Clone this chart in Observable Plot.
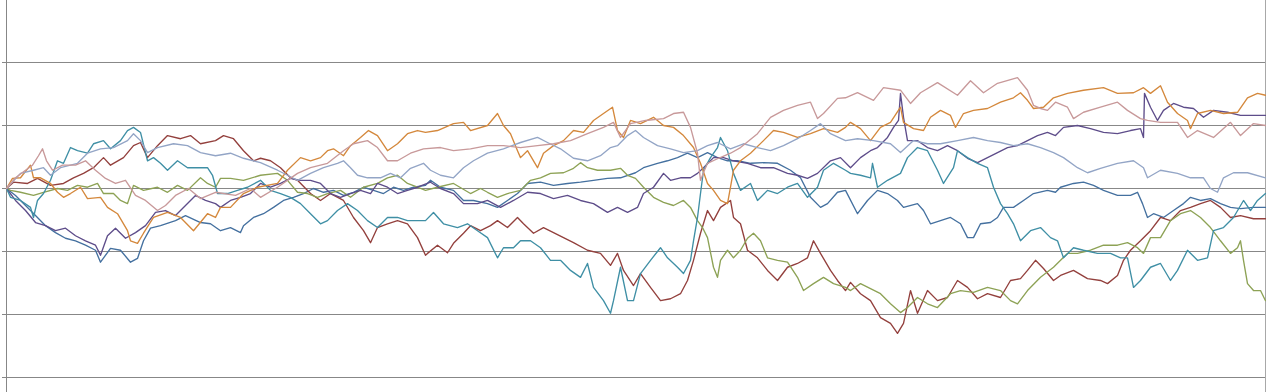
<!DOCTYPE html>
<html>
<head>
<meta charset="utf-8">
<script src="https://cdn.jsdelivr.net/npm/d3@7"></script>
<script src="https://cdn.jsdelivr.net/npm/@observablehq/plot@0.6"></script>
<style>
  html, body { margin: 0; padding: 0; background: #ffffff; }
  #chart svg { display: block; }
</style>
</head>
<body>
<div id="chart"></div>
<script>
// Series names and colours (Excel 2010 default order)
const seriesNames = ["Series 1", "Series 2", "Series 3", "Series 4", "Series 5", "Series 6", "Series 7", "Series 8"];
const seriesColors = ["#44709f", "#93403d", "#8da255", "#5e4d8a", "#3f8fa5", "#d4883c", "#93a5c6", "#c8999a"];
const gridTicks = [-3, -2, -1, 0, 1, 2];

// [day, value] readings for each series
const s1 = [[0,0],[9,-.11],[19,-.27],[29,-.43],[39,-.59],[49,-.70],[59,-.79],[69,-.83],[79,-.90],[89,-.98],[94,-1.17],[104,-.95],[114,-.98],[124,-1.17],[131,-1.11],[137,-.83],[144,-.63],[154,-.59],[169,-.51],[179,-.43],[194,-.54],[204,-.56],[214,-.67],[224,-.62],[234,-.70],[237,-.59],[247,-.46],[257,-.40],[267,-.30],[277,-.19],[287,-.14],[297,-.08],[307,0],[317,-.06],[327,-.03],[337,-.11],[347,-.06],[357,.02],[367,-.03],[377,-.08],[387,.02],[397,-.03],[407,.02],[419,.05],[424,.13],[434,.02],[447,-.03],[457,-.19],[467,-.19],[481,-.24],[491,-.30],[501,-.19],[511,-.08],[521,.08],[534,.10],[547,.05],[561,.08],[574,.10],[587,.13],[601,.16],[614,.17],[629,.25],[637,.33],[651,.40],[661,.44],[671,.49],[681,.56],[691,.49],[701,.57],[711,.49],[721,.44],[731,.44],[744,.40],[757,.41],[771,.40],[784,.29],[794,.17],[804,-.14],[814,-.30],[821,-.24],[831,-.06],[839,-.03],[851,-.40],[861,-.19],[871,-.03],[881,-.08],[891,-.19],[897,-.30],[911,-.24],[917,-.35],[924,-.56],[934,-.51],[944,-.46],[954,-.56],[961,-.78],[967,-.78],[974,-.56],[984,-.54],[991,-.46],[997,-.30],[1007,-.30],[1017,-.19],[1027,-.08],[1041,-.03],[1049,-.06],[1054,.02],[1067,.08],[1077,.10],[1087,.05],[1097,-.03],[1111,-.11],[1124,-.11],[1131,-.06],[1136,-.24],[1141,-.46],[1147,-.40],[1157,-.46],[1167,-.35],[1177,-.24],[1184,-.14],[1194,-.19],[1204,-.16],[1214,-.24],[1224,-.30],[1234,-.32],[1247,-.30],[1259,-.30]];
const s2 = [[0,0],[7,.10],[21,.08],[31,.16],[44,.05],[57,.08],[67,.17],[77,.24],[87,.33],[97,.49],[104,.37],[117,.49],[127,.68],[134,.73],[141,.49],[151,.68],[161,.84],[174,.79],[184,.84],[194,.71],[209,.76],[217,.84],[227,.79],[237,.60],[247,.44],[254,.48],[264,.44],[274,.33],[284,.17],[291,.13],[304,-.08],[314,-.19],[324,-.08],[337,-.19],[347,-.46],[357,-.67],[364,-.86],[371,-.62],[381,-.56],[391,-.51],[401,-.56],[411,-.78],[419,-1.06],[421,-1.03],[431,-.90],[441,-1.02],[447,-.87],[457,-.71],[464,-.59],[474,-.67],[484,-.59],[491,-.51],[501,-.62],[511,-.46],[517,-.56],[527,-.71],[537,-.62],[547,-.70],[557,-.78],[567,-.86],[581,-.98],[594,-1.03],[604,-1.22],[611,-1.03],[617,-1.30],[627,-1.54],[634,-1.35],[644,-1.57],[654,-1.78],[664,-1.75],[674,-1.67],[681,-1.46],[687,-1.14],[694,-.71],[701,-.35],[707,-.51],[714,-.30],[724,-.19],[727,-.46],[734,-.56],[741,-.98],[751,-1.10],[761,-1.30],[771,-1.46],[781,-1.25],[791,-1.19],[801,-1.10],[807,-.83],[814,-1.03],[824,-1.30],[831,-1.46],[839,-1.62],[844,-1.49],[854,-1.67],[864,-1.78],[874,-2.05],[884,-2.14],[891,-2.30],[897,-2.14],[904,-1.62],[911,-1.98],[921,-1.62],[931,-1.78],[941,-1.73],[951,-1.46],[961,-1.57],[971,-1.75],[981,-1.67],[994,-1.73],[1004,-1.46],[1014,-1.43],[1021,-1.30],[1029,-1.14],[1037,-1.27],[1047,-1.46],[1054,-1.38],[1067,-1.30],[1081,-1.43],[1094,-1.46],[1101,-1.51],[1111,-1.38],[1117,-1.14],[1124,-.98],[1134,-.83],[1144,-.67],[1154,-.46],[1164,-.51],[1174,-.35],[1184,-.30],[1194,-.24],[1204,-.19],[1214,-.30],[1224,-.46],[1234,-.43],[1247,-.48],[1259,-.48]];
const s3 = [[0,0],[4,-.03],[14,-.06],[27,-.11],[37,-.06],[51,0],[61,-.03],[71,.05],[81,.02],[91,.08],[97,-.08],[107,-.08],[114,-.19],[121,-.24],[127,.05],[137,-.03],[151,.02],[161,-.06],[171,.05],[181,-.03],[194,.17],[201,.08],[209,.02],[214,.16],[224,.16],[237,.13],[254,.21],[271,.24],[281,.13],[291,-.06],[301,-.08],[311,-.14],[321,-.08],[334,-.03],[344,-.14],[357,.02],[371,.08],[381,.17],[391,.21],[401,.08],[411,.02],[419,-.03],[431,.02],[447,.08],[464,-.08],[474,0],[481,-.06],[491,-.14],[501,-.08],[514,-.03],[524,.13],[534,.17],[544,.24],[557,.25],[567,.32],[574,.41],[581,.33],[591,.29],[604,.29],[614,.32],[621,.21],[629,.16],[637,.02],[647,-.14],[657,-.22],[667,-.27],[677,-.19],[684,-.30],[691,-.51],[696,-.62],[701,-.78],[707,-1.25],[711,-1.41],[714,-1.14],[721,-.98],[727,-1.10],[734,-.98],[741,-.79],[747,-.71],[754,-.83],[761,-1.10],[771,-1.14],[781,-1.17],[791,-1.41],[797,-1.62],[807,-1.51],[817,-1.41],[827,-1.51],[839,-1.57],[844,-1.62],[854,-1.51],[864,-1.59],[874,-1.67],[884,-1.83],[894,-1.97],[901,-1.89],[911,-1.73],[921,-1.83],[931,-1.89],[944,-1.67],[954,-1.62],[967,-1.65],[981,-1.57],[994,-1.62],[1004,-1.78],[1011,-1.83],[1021,-1.62],[1034,-1.41],[1047,-1.25],[1061,-1.03],[1071,-1.03],[1084,-.98],[1097,-.90],[1111,-.90],[1121,-.86],[1131,-.94],[1137,-1.03],[1144,-.78],[1154,-.78],[1164,-.51],[1174,-.40],[1184,-.35],[1194,-.46],[1204,-.62],[1214,-.83],[1224,-1.03],[1231,-.94],[1234,-.83],[1237,-1.14],[1241,-1.51],[1247,-1.62],[1254,-1.62],[1259,-1.78]];
const s4 = [[0,0],[9,-.19],[19,-.35],[29,-.54],[39,-.59],[49,-.67],[59,-.63],[69,-.75],[79,-.83],[89,-.90],[94,-1.06],[101,-.75],[109,-.63],[119,-.79],[129,-.70],[139,-.59],[149,-.38],[159,-.35],[169,-.43],[179,-.27],[189,-.11],[199,-.19],[209,-.24],[214,-.30],[224,-.19],[234,-.14],[244,-.08],[254,.08],[264,.02],[274,.08],[284,.16],[294,.13],[304,.13],[314,.08],[324,-.08],[334,-.14],[344,-.08],[354,-.03],[364,-.08],[371,.08],[381,.02],[391,-.08],[401,-.03],[411,.02],[424,.10],[434,0],[447,-.08],[457,-.24],[471,-.24],[481,-.19],[494,-.30],[507,-.19],[521,-.06],[534,-.08],[547,-.16],[561,-.11],[574,-.19],[587,-.24],[601,-.38],[611,-.30],[621,-.38],[631,-.30],[637,-.08],[647,.02],[657,.24],[664,.13],[674,.17],[684,.17],[691,.24],[697,.33],[707,.49],[717,.49],[727,.44],[741,.40],[754,.33],[767,.33],[781,.24],[791,.21],[801,.16],[811,.24],[824,.44],[834,.49],[844,.33],[854,.49],[864,.60],[871,.65],[881,.81],[887,.97],[892,1.08],[894,1.51],[897,1.13],[901,.76],[911,.76],[921,.65],[931,.60],[941,.68],[951,.60],[961,.48],[971,.41],[981,.49],[991,.57],[1001,.65],[1011,.68],[1021,.76],[1031,.84],[1041,.89],[1049,.84],[1057,.97],[1071,1.00],[1084,.95],[1097,.89],[1111,.87],[1124,.92],[1134,.95],[1137,.81],[1138,1.51],[1144,1.29],[1151,1.08],[1157,1.24],[1167,1.35],[1177,1.29],[1187,1.27],[1197,1.13],[1207,1.24],[1221,1.21],[1234,1.16],[1247,1.16],[1259,1.16]];
const s5 = [[0,0],[4,-.14],[14,-.19],[24,-.30],[27,-.46],[31,-.19],[37,-.08],[44,.13],[51,.44],[57,.40],[64,.65],[71,.60],[81,.56],[87,.71],[97,.76],[104,.63],[114,.76],[121,.92],[127,.97],[134,.89],[141,.44],[147,.49],[154,.40],[161,.29],[171,.44],[181,.33],[191,.33],[201,.33],[206,.21],[211,-.08],[221,-.08],[231,-.03],[241,.02],[254,.13],[264,-.03],[274,-.08],[284,-.14],[294,-.24],[304,-.40],[314,-.56],[321,-.51],[331,-.35],[341,-.24],[351,-.35],[361,-.51],[371,-.62],[381,-.46],[391,-.46],[401,-.51],[411,-.51],[419,-.51],[427,-.38],[437,-.56],[451,-.62],[461,-.56],[471,-.67],[481,-.78],[491,-1.10],[497,-.94],[507,-.94],[514,-.83],[524,-.83],[534,-.94],[544,-1.14],[554,-1.14],[564,-1.30],[574,-1.41],[581,-1.19],[587,-1.57],[597,-1.78],[604,-1.98],[607,-1.78],[614,-1.25],[621,-1.78],[627,-1.78],[634,-1.35],[644,-1.14],[654,-.94],[661,-1.10],[671,-1.25],[677,-1.35],[684,-1.14],[687,-.83],[691,-.46],[694,-.08],[697,.29],[704,.49],[711,.65],[714,.81],[721,.60],[727,.24],[734,-.03],[744,.08],[751,-.19],[761,-.03],[771,-.08],[781,.02],[791,.08],[801,-.14],[811,.02],[817,.29],[827,.40],[839,.29],[844,.24],[854,.21],[864,.17],[866,.40],[871,.02],[881,.13],[894,.24],[901,.49],[911,.65],[921,.60],[931,.29],[937,.08],[947,.33],[951,.60],[961,.49],[971,.40],[981,.33],[987,.02],[994,-.24],[1001,-.40],[1007,-.56],[1014,-.83],[1024,-.67],[1034,-.62],[1044,-.78],[1051,-.83],[1057,-1.10],[1067,-.94],[1077,-.98],[1091,-1.03],[1104,-1.03],[1114,-1.10],[1121,-1.10],[1127,-1.57],[1134,-1.46],[1144,-1.25],[1154,-1.19],[1164,-1.46],[1171,-1.30],[1181,-.98],[1191,-1.14],[1201,-1.10],[1207,-.67],[1217,-.62],[1227,-.46],[1237,-.19],[1244,-.35],[1251,-.19],[1259,-.08]];
const s6 = [[0,0],[6,.16],[14,.17],[24,.37],[27,.17],[34,.17],[44,.08],[51,-.06],[57,-.14],[64,-.08],[74,.02],[81,-.16],[94,-.14],[101,-.30],[111,-.40],[121,-.67],[124,-.83],[131,-.87],[137,-.71],[147,-.46],[161,-.38],[174,-.46],[187,-.67],[201,-.40],[209,-.46],[214,-.30],[224,-.30],[237,-.08],[251,.02],[271,.08],[281,.29],[294,.49],[304,.44],[314,.49],[321,.60],[327,.63],[337,.52],[344,.68],[354,.81],[362,.92],[371,.84],[381,.60],[391,.71],[401,.87],[411,.92],[419,.89],[431,.92],[447,1.03],[457,1.05],[464,.92],[481,1.00],[491,1.19],[497,1.00],[504,.87],[511,.60],[514,.49],[521,.60],[531,.33],[537,.56],[547,.68],[557,.76],[567,.92],[577,.89],[587,1.08],[597,1.19],[606,1.29],[611,.92],[617,.81],[624,1.08],[634,1.03],[647,1.13],[657,1.00],[667,.97],[677,.84],[687,.65],[694,.40],[701,.08],[707,-.03],[714,-.19],[721,-.24],[724,.02],[727,.29],[734,.44],[744,.56],[757,.76],[767,.92],[777,.89],[791,.81],[804,.87],[817,.95],[831,.89],[839,.97],[844,1.05],[854,.95],[864,.76],[874,.97],[884,1.05],[894,1.29],[897,1.05],[907,.95],[917,.92],[924,1.13],[934,1.24],[944,1.16],[949,.97],[957,1.19],[967,1.24],[981,1.27],[994,1.37],[1007,1.44],[1014,1.52],[1021,1.40],[1027,1.27],[1037,1.29],[1047,1.44],[1061,1.51],[1077,1.56],[1097,1.60],[1111,1.51],[1127,1.52],[1137,1.60],[1144,1.51],[1154,1.63],[1161,1.37],[1171,1.19],[1181,1.08],[1184,.95],[1191,1.19],[1204,1.24],[1217,1.19],[1231,1.21],[1241,1.44],[1251,1.51],[1259,1.48]];
const s7 = [[0,0],[14,.24],[27,.29],[37,.33],[44,.21],[54,.33],[71,.40],[81,.56],[94,.63],[107,.65],[121,.76],[127,.87],[134,.76],[141,.57],[151,.65],[167,.71],[181,.68],[194,.57],[209,.52],[224,.56],[237,.48],[254,.41],[271,.29],[281,.21],[291,.13],[304,.24],[317,.33],[331,.40],[337,.44],[344,.33],[351,.21],[361,.17],[374,.17],[384,.24],[394,.17],[404,.32],[417,.40],[424,.29],[434,.21],[447,.17],[457,.33],[467,.44],[481,.56],[497,.63],[514,.73],[531,.81],[541,.73],[554,.63],[567,.48],[581,.44],[594,.52],[604,.65],[611,.68],[621,.84],[629,.92],[637,.81],[651,.68],[664,.63],[677,.57],[691,.60],[701,.68],[711,.73],[724,.63],[737,.71],[751,.65],[764,.60],[777,.68],[791,.79],[804,.92],[814,1.03],[824,.87],[839,.76],[851,.79],[867,.76],[884,.71],[894,.57],[907,.76],[921,.71],[934,.71],[951,.76],[967,.81],[981,.76],[994,.73],[1007,.68],[1021,.71],[1034,.65],[1047,.57],[1057,.49],[1071,.33],[1081,.25],[1094,.32],[1111,.40],[1127,.44],[1137,.33],[1141,.17],[1154,.29],[1171,.24],[1184,.17],[1197,.17],[1204,0],[1211,-.06],[1217,.17],[1227,.25],[1241,.25],[1259,.17]];
const s8 = [[0,0],[9,.17],[19,.29],[26,.37],[32,.52],[36,.63],[40,.44],[46,.29],[56,.37],[69,.37],[79,.44],[89,.29],[99,.16],[109,.08],[119,.13],[129,-.11],[139,-.19],[151,-.35],[159,-.27],[169,-.11],[182,0],[194,-.16],[209,-.06],[229,-.11],[244,0],[254,-.14],[271,.02],[291,.24],[304,.33],[321,.40],[337,.60],[347,.71],[361,.76],[371,.65],[381,.44],[391,.44],[404,.56],[417,.63],[434,.65],[447,.60],[464,.63],[481,.68],[497,.68],[514,.65],[531,.68],[547,.71],[564,.76],[581,.87],[597,.97],[607,1.05],[614,.81],[624,1.03],[639,1.08],[657,1.11],[667,1.19],[677,1.21],[684,.97],[691,.56],[694,.13],[698,.29],[701,.40],[712,.48],[724,.56],[734,.65],[751,.87],[764,1.13],[777,1.24],[791,1.32],[804,1.37],[811,1.11],[817,1.19],[831,1.43],[839,1.44],[851,1.52],[867,1.40],[877,1.60],[894,1.56],[904,1.35],[914,1.52],[931,1.68],[951,1.48],[964,1.71],[977,1.52],[991,1.67],[1011,1.76],[1021,1.56],[1027,1.32],[1034,1.27],[1041,1.24],[1049,1.37],[1061,1.29],[1067,1.11],[1077,1.21],[1094,1.29],[1111,1.37],[1121,1.24],[1134,1.11],[1141,1.08],[1154,1.05],[1171,1.05],[1181,.81],[1191,.92],[1207,.81],[1224,1.05],[1234,.84],[1247,1.03],[1259,1.00]];

const allSeries = [s1, s2, s3, s4, s5, s6, s7, s8];
const rows = allSeries.flatMap((s, i) => s.map(([day, value]) => ({series: seriesNames[i], day, value})));

const gridColor = "#878787";

const chart = Plot.plot({
  width: 1266,
  height: 392,
  marginLeft: 6,
  marginRight: 1,
  marginTop: 0,
  marginBottom: 0,
  x: {domain: [0, 1259], axis: null},
  y: {domain: [-3.238, 2.984], axis: null},
  color: {domain: seriesNames, range: seriesColors},
  marks: [
    Plot.ruleY(gridTicks, {stroke: gridColor, strokeWidth: 1, insetLeft: -4}),
    Plot.ruleX([0], {stroke: gridColor, strokeWidth: 1}),
    Plot.ruleX([1259], {stroke: "#a8a8a8", strokeWidth: 1}),
    Plot.line(rows, {x: "day", y: "value", z: "series", stroke: "series", strokeWidth: 1.35, strokeLinejoin: "round"})
  ]
});
document.getElementById("chart").appendChild(chart);
</script>
</body>
</html>
